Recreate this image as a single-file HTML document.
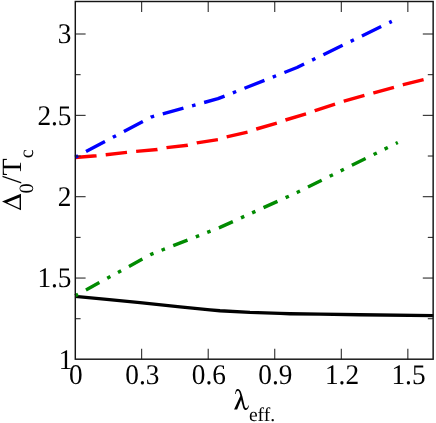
<!DOCTYPE html>
<html><head><meta charset="utf-8">
<style>
html,body{margin:0;padding:0;background:#fff;}
svg{display:block;}
text{font-family:"Liberation Serif",serif;fill:#000;text-rendering:geometricPrecision;}
</style></head>
<body>
<svg width="436" height="423" viewBox="0 0 436 423">
<rect width="436" height="423" fill="#fff"/>
<g opacity="0.999">
<g fill="none" stroke-linejoin="round">
<polyline stroke="#000" stroke-width="3.4" points="75.2,296.4 106.7,299.4 140.0,302.6 180.0,306.9 210.0,309.9 220.0,310.7 250.0,312.4 280.0,313.4 290.0,313.7 320.0,314.1 360.0,314.8 433.5,315.6"/>
<polyline stroke="#008b00" stroke-width="3.4" stroke-dasharray="3.56 8.94 15.31 8.94 3.56 8.69" stroke-dashoffset="0.25" points="75.2,295.8 151.0,254.4 220.0,227.4 297.0,192.5 397.8,142.6"/>
<polyline stroke="#ff0000" stroke-width="3.4" stroke-dasharray="21.44 9.19" points="75.2,157.5 96.5,155.8 105.9,154.7 126.7,152.4 136.2,151.4 157.4,149.5 166.5,147.6 187.7,145.2 196.9,142.9 218.2,139.6 226.5,136.9 247.7,132.0 256.5,129.0 277.2,123.0 285.5,120.0 306.2,113.8 315.1,110.6 335.4,104.0 344.0,101.2 365.0,95.3 373.8,92.8 394.5,87.2 403.3,84.7 424.3,79.4 432.6,77.4"/>
<polyline stroke="#0000ff" stroke-width="3.4" stroke-dasharray="3.56 8.94 21.44 8.94" stroke-dashoffset="0.25" points="75.2,157.3 151.0,117.1 218.0,98.7 297.0,67.5 391.8,21.4"/>
</g>
<g stroke="#222" stroke-width="1.05" fill="none">
<line x1="141.65" y1="359.2" x2="141.65" y2="348.8"/>
<line x1="141.65" y1="1.5" x2="141.65" y2="11.9"/>
<line x1="208.20" y1="359.2" x2="208.20" y2="348.8"/>
<line x1="208.20" y1="1.5" x2="208.20" y2="11.9"/>
<line x1="274.75" y1="359.2" x2="274.75" y2="348.8"/>
<line x1="274.75" y1="1.5" x2="274.75" y2="11.9"/>
<line x1="341.30" y1="359.2" x2="341.30" y2="348.8"/>
<line x1="341.30" y1="1.5" x2="341.30" y2="11.9"/>
<line x1="407.85" y1="359.2" x2="407.85" y2="348.8"/>
<line x1="407.85" y1="1.5" x2="407.85" y2="11.9"/>
<line x1="75.3" y1="318.72" x2="80.6" y2="318.72"/>
<line x1="433.1" y1="318.72" x2="427.8" y2="318.72"/>
<line x1="75.3" y1="278.05" x2="85.6" y2="278.05"/>
<line x1="433.1" y1="278.05" x2="422.8" y2="278.05"/>
<line x1="75.3" y1="237.38" x2="80.6" y2="237.38"/>
<line x1="433.1" y1="237.38" x2="427.8" y2="237.38"/>
<line x1="75.3" y1="196.70" x2="85.6" y2="196.70"/>
<line x1="433.1" y1="196.70" x2="422.8" y2="196.70"/>
<line x1="75.3" y1="156.02" x2="80.6" y2="156.02"/>
<line x1="433.1" y1="156.02" x2="427.8" y2="156.02"/>
<line x1="75.3" y1="115.35" x2="85.6" y2="115.35"/>
<line x1="433.1" y1="115.35" x2="422.8" y2="115.35"/>
<line x1="75.3" y1="74.68" x2="80.6" y2="74.68"/>
<line x1="433.1" y1="74.68" x2="427.8" y2="74.68"/>
<line x1="75.3" y1="34.00" x2="85.6" y2="34.00"/>
<line x1="433.1" y1="34.00" x2="422.8" y2="34.00"/>
</g>
<rect x="75.30" y="1.50" width="357.85" height="357.70" fill="none" stroke="#141414" stroke-width="1.45"/>
<g font-size="28">
<text transform="translate(75.8,383.9) scale(0.975,1.015)" text-anchor="middle">0</text>
<text transform="translate(142.3,383.9) scale(0.975,1.015)" text-anchor="middle">0.3</text>
<text transform="translate(208.9,383.9) scale(0.975,1.015)" text-anchor="middle">0.6</text>
<text transform="translate(275.4,383.9) scale(0.975,1.015)" text-anchor="middle">0.9</text>
<text transform="translate(342.0,383.9) scale(0.975,1.015)" text-anchor="middle">1.2</text>
<text transform="translate(408.5,383.9) scale(0.975,1.015)" text-anchor="middle">1.5</text>
<text transform="translate(72.5,368.8) scale(0.975,1.015)" text-anchor="end">1</text>
<text transform="translate(71.5,287.4) scale(0.975,1.015)" text-anchor="end">1.5</text>
<text transform="translate(71.5,206.1) scale(0.975,1.015)" text-anchor="end">2</text>
<text transform="translate(71.5,124.8) scale(0.975,1.015)" text-anchor="end">2.5</text>
<text transform="translate(71.5,43.4) scale(0.975,1.015)" text-anchor="end">3</text>
</g>
<path d="M235.18,393.9 C235.2,392.8 235.4,391.9 235.7,391.1 C236.1,389.9 236.7,389.05 237.5,389.05 C238.6,389.05 239.5,389.6 240.1,390.4 C240.5,391.0 240.7,391.3 240.9,391.8 L242.4,396.5 L244.2,404.4 C244.5,405.8 244.7,406.6 245.0,407.2 C245.4,408.0 245.8,408.3 246.2,408.3 C246.9,408.3 247.4,407.8 247.7,407.1 C248.0,406.5 248.1,406.0 248.2,405.4 L248.85,405.4 C248.8,406.6 248.5,407.6 247.9,408.5 C247.4,409.4 246.8,409.9 246.0,409.9 C245.0,409.9 244.2,409.4 243.6,408.4 C243.1,407.6 242.9,406.8 242.7,405.7 L241.1,399.8 L237.15,409.55 L234.07,409.55 L240.3,396.0 L239.6,393.1 C239.2,391.9 238.9,391.3 238.5,391.1 C238.1,390.85 237.7,390.8 237.4,390.9 C236.7,391.1 236.3,391.8 236.1,392.5 C236.0,393.0 235.9,393.4 235.9,393.9 Z" fill="#000"/>
<text x="248.9" y="421" font-size="19.6">eff.</text>
<path fill-rule="evenodd" d="M21,193.7 L21,210.2 L2.0,201.6 Z M19.6,197.4 L19.6,208.3 L7.1,202.6 Z" fill="#000"/>
<g transform="translate(21,0) rotate(-90)">
<text x="-193.6" y="11.7" font-size="20.4">0</text>
<text x="-183.5" y="0" font-size="28">/</text>
<text x="-175.5" y="0" font-size="28">T</text>
<text x="-158.3" y="11.9" font-size="20">c</text>
</g>
</g></svg>
</body></html>
